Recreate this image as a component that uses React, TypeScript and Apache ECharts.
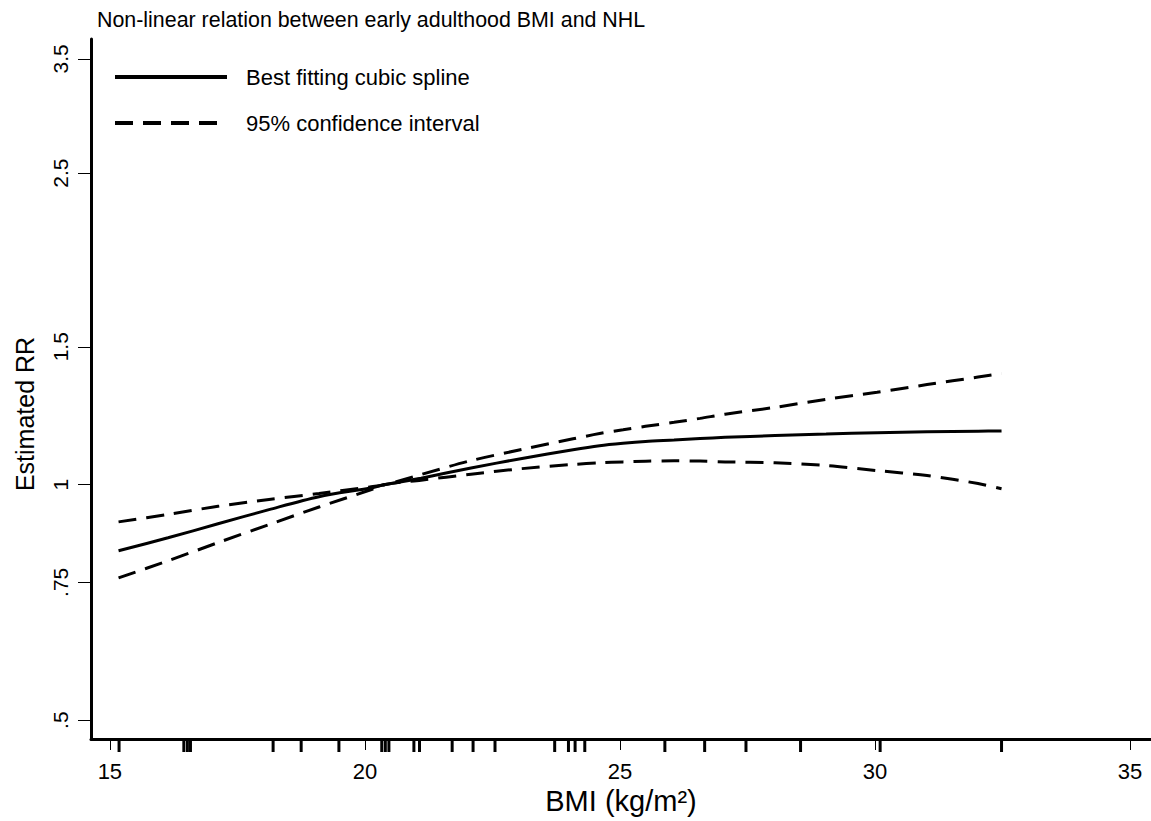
import React, { useEffect, useRef } from "react";
import * as echarts from "echarts";

const TITLE = "Non-linear relation between early adulthood BMI and NHL";
const X_NAME = "BMI (kg/m²)";
const Y_NAME = "Estimated RR";
const FIT_NAME = "Best fitting cubic spline";
const CI_NAME = "95% confidence interval";

const BMI = [15.17, 16.14, 17.12, 18.12, 19.1, 20.1, 20.4, 21.1, 22.08, 23.08, 24.08, 24.6, 25.06, 25.5, 26.06, 26.57, 27.06, 28.04, 29.04, 30.04, 31.02, 32.02, 32.48];
const RR_FIT = [0.823, 0.855, 0.891, 0.929, 0.965, 0.99, 1.0, 1.019, 1.05, 1.08, 1.108, 1.121, 1.129, 1.135, 1.14, 1.145, 1.149, 1.155, 1.16, 1.165, 1.168, 1.17, 1.171];
const RR_UPPER = [0.896, 0.916, 0.938, 0.957, 0.974, 0.993, 1.0, 1.03, 1.073, 1.109, 1.144, 1.162, 1.175, 1.187, 1.201, 1.215, 1.23, 1.255, 1.285, 1.312, 1.342, 1.372, 1.386];
const RR_LOWER = [0.76, 0.799, 0.843, 0.889, 0.936, 0.984, 1.0, 1.013, 1.031, 1.048, 1.061, 1.066, 1.069, 1.071, 1.0725, 1.0715, 1.069, 1.066, 1.058, 1.042, 1.027, 1.003, 0.988];

const RUG = [15.18, 16.45, 16.52, 16.58, 18.2, 18.75, 19.49, 20.33, 20.4, 20.47, 20.96, 21.07, 21.71, 22.12, 22.55, 23.72, 23.99, 24.12, 24.31, 25.88, 26.66, 27.47, 28.54, 30.1, 32.48];

const X_TICKS = [15, 20, 25, 30, 35];
const Y_TICKS = [0.5, 0.75, 1, 1.5, 2.5, 3.5];

const X_MIN = 14.63;
const X_MAX = 35.41;
const Y_MIN = 0.473;
const Y_MAX = 3.71;

const FONT = "'Liberation Sans', Arial, sans-serif";

export default function App() {
  const ref = useRef<HTMLDivElement>(null);
  useEffect(() => {
    if (!ref.current) return;
    const chart = echarts.init(ref.current, undefined, { renderer: "svg" });
    const pair = (ys: number[]) => BMI.map((x, i) => [x, ys[i]]);
    const dash = [18, 10];
    chart.setOption({
      animation: false,
      backgroundColor: "#fff",
      textStyle: { fontFamily: FONT, color: "#000" },
      title: {
        text: TITLE,
        left: 97,
        top: 9,
        padding: 0,
        textStyle: { fontFamily: FONT, fontSize: 21.4, fontWeight: "normal", color: "#000" },
      },
      legend: {
        data: [FIT_NAME, CI_NAME],
        orient: "vertical",
        left: 113,
        top: 66,
        padding: 0,
        itemWidth: 112,
        itemHeight: 20,
        itemGap: 24,
        itemStyle: { color: "rgba(0,0,0,0)", borderWidth: 0, opacity: 0 },
        lineStyle: { width: 4 },
        textStyle: { fontFamily: FONT, fontSize: 22, color: "#000", padding: [0, 0, 0, 14] },
        selectedMode: false,
      },
      grid: { left: 91, right: 0, top: 39, bottom: 82, containLabel: false },
      xAxis: {
        type: "value",
        min: X_MIN,
        max: X_MAX,
        name: X_NAME,
        nameLocation: "middle",
        nameGap: 38,
        nameTextStyle: { fontFamily: FONT, fontSize: 29, color: "#000" },
        axisLine: { show: true, onZero: false, lineStyle: { color: "#000", width: 3 } },
        axisTick: { show: true, length: 11, lineStyle: { color: "#000", width: 1 }, customValues: X_TICKS },
        axisLabel: { customValues: X_TICKS, fontFamily: FONT, fontSize: 22, color: "#000", margin: 21 },
        splitLine: { show: false },
      },
      yAxis: {
        type: "log",
        min: Y_MIN,
        max: Y_MAX,
        name: Y_NAME,
        nameLocation: "middle",
        nameRotate: 90,
        nameGap: 54,
        nameTextStyle: { fontFamily: FONT, fontSize: 25, color: "#000", padding: [0, 50, 0, 0] },
        axisLine: { show: true, onZero: false, lineStyle: { color: "#000", width: 3 } },
        axisTick: { show: true, length: 13, lineStyle: { color: "#000", width: 1 }, customValues: Y_TICKS },
        axisLabel: {
          customValues: Y_TICKS,
          rotate: 90,
          fontFamily: FONT,
          fontSize: 21,
          color: "#000",
          margin: 20,
          formatter: (v: number) => {
            const s = String(Math.round(v * 100) / 100);
            return s.startsWith("0.") ? s.slice(1) : s;
          },
        },
        splitLine: { show: false },
      },
      series: [
        {
          name: FIT_NAME,
          type: "line",
          data: pair(RR_FIT),
          smooth: 0.3,
          symbol: "none",
          lineStyle: { color: "#000", width: 3, type: "solid" },
          itemStyle: { color: "#000" },
        },
        {
          name: CI_NAME,
          type: "line",
          data: pair(RR_UPPER),
          smooth: 0.3,
          symbol: "none",
          lineStyle: { color: "#000", width: 3, type: dash },
          itemStyle: { color: "#000" },
        },
        {
          name: CI_NAME,
          type: "line",
          data: pair(RR_LOWER),
          smooth: 0.3,
          symbol: "none",
          lineStyle: { color: "#000", width: 3, type: dash },
          itemStyle: { color: "#000" },
        },
        {
          name: "rug",
          type: "custom",
          clip: false,
          data: RUG.map((x) => [x, Y_MIN]),
          renderItem: (_params: any, api: any) => {
            const p = api.coord([api.value(0), Y_MIN]);
            return {
              type: "line",
              shape: { x1: p[0], y1: p[1] + 1, x2: p[0], y2: p[1] + 13 },
              style: { stroke: "#000", lineWidth: 3 },
            };
          },
        },
      ],
    });
    return () => chart.dispose();
  }, []);
  return (
    <div
      ref={ref}
      style={{ position: "absolute", left: 0, top: 0, width: 1151, height: 821, background: "#fff" }}
    />
  );
}
